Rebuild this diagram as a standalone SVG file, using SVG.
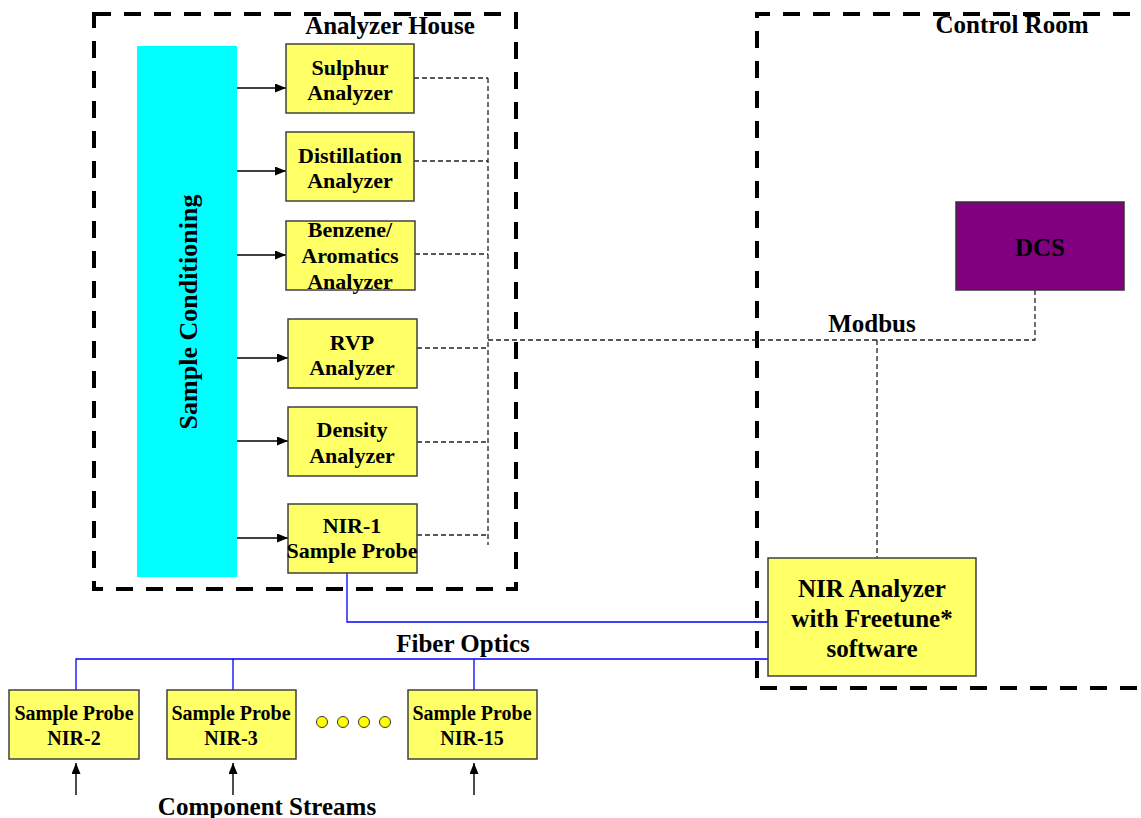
<svg xmlns="http://www.w3.org/2000/svg" width="1141" height="818" viewBox="0 0 1141 818">
<style>
text{font-family:"Liberation Serif","Times New Roman",serif;font-weight:bold;fill:#000;text-anchor:middle}
.t22{font-size:22px}
.t20{font-size:20px}
.t25{font-size:25px}
.box{fill:#FFFF66;stroke:#404040;stroke-width:1.5}
.zone{fill:none;stroke:#000;stroke-width:4;stroke-dasharray:17 13}
.sig{fill:none;stroke:#222;stroke-width:1.3;stroke-dasharray:5 3}
.fib{fill:none;stroke:#0000FF;stroke-width:1.3}
.arr{fill:none;stroke:#000;stroke-width:1.4;marker-end:url(#ah)}
</style>
<defs>
<marker id="ah" markerWidth="11" markerHeight="9" refX="11" refY="4.5" orient="auto" markerUnits="userSpaceOnUse">
<path d="M0,0 L11,4.5 L0,9 Z" fill="#000"/>
</marker>
</defs>
<rect width="1141" height="818" fill="#fff"/>

<g id="analyzer-house">
<rect class="zone" x="94" y="14" width="422" height="575"/>
<text class="t25" x="390" y="34">Analyzer House</text>
</g>
<g id="control-room">
<path class="zone" d="M1160,14 H757 V688 H1160"/>
<text class="t25" x="1012" y="33">Control Room</text>
</g>

<g id="connectors">
<path class="arr" d="M237,88 H286"/>
<path class="arr" d="M237,171 H286"/>
<path class="arr" d="M237,255 H286"/>
<path class="arr" d="M237,358 H288"/>
<path class="arr" d="M237,441 H288"/>
<path class="arr" d="M237,538 H288"/>
<path class="sig" d="M414,78 H488"/>
<path class="sig" d="M414,161 H488"/>
<path class="sig" d="M415,254 H488"/>
<path class="sig" d="M417,348 H488"/>
<path class="sig" d="M417,442 H488"/>
<path class="sig" d="M417,535 H488"/>
<path class="sig" d="M488,78 V545"/>
<path class="sig" d="M488,340 H1035 V290"/>
<path class="sig" d="M877,340 V558"/>
<path class="fib" d="M347,573 V622 H768"/>
<path class="fib" d="M76,690 V659 H768"/>
<path class="fib" d="M233,659 V690"/>
<path class="fib" d="M474,659 V690"/>
<path class="arr" d="M76,795 V763"/>
<path class="arr" d="M233,795 V763"/>
<path class="arr" d="M474,795 V763"/>
<text class="t25" x="872" y="332">Modbus</text>
<text class="t25" x="463" y="652">Fiber Optics</text>
<text class="t25" x="267" y="815">Component Streams</text>
</g>

<g id="sample-conditioning">
<rect x="137" y="46" width="100" height="531" fill="#00FFFF"/>
<text transform="translate(197,312) rotate(-90)" x="0" y="0" style="font-size:26px">Sample Conditioning</text>
</g>

<g id="sulphur">
<rect class="box" x="286" y="44" width="128" height="69"/>
<text class="t22" x="350" y="75">Sulphur</text>
<text class="t22" x="350" y="100">Analyzer</text>
</g>
<g id="distillation">
<rect class="box" x="286" y="132" width="128" height="69"/>
<text class="t22" x="350" y="163">Distillation</text>
<text class="t22" x="350" y="188">Analyzer</text>
</g>
<g id="benzene">
<rect class="box" x="286" y="221" width="129" height="69"/>
<text class="t22" x="350" y="237">Benzene/</text>
<text class="t22" x="350" y="263">Aromatics</text>
<text class="t22" x="350" y="289">Analyzer</text>
</g>
<g id="rvp">
<rect class="box" x="288" y="319" width="129" height="69"/>
<text class="t22" x="352" y="350">RVP</text>
<text class="t22" x="352" y="375">Analyzer</text>
</g>
<g id="density">
<rect class="box" x="288" y="407" width="129" height="69"/>
<text class="t22" x="352" y="437">Density</text>
<text class="t22" x="352" y="463">Analyzer</text>
</g>
<g id="nir1">
<rect class="box" x="288" y="504" width="129" height="69"/>
<text class="t22" x="352" y="533">NIR-1</text>
<text class="t22" x="352" y="558">Sample Probe</text>
</g>

<g id="dcs">
<rect x="956" y="202" width="168" height="88" fill="#800080" stroke="#333" stroke-width="1.5"/>
<text class="t25" x="1040" y="256">DCS</text>
</g>
<g id="nir-analyzer">
<rect class="box" x="768" y="558" width="208" height="118"/>
<text class="t25" x="872" y="597">NIR Analyzer</text>
<text class="t25" x="872" y="627">with Freetune*</text>
<text class="t25" x="872" y="657">software</text>
</g>

<g id="nir2">
<rect class="box" x="9" y="690" width="130" height="69"/>
<text class="t20" x="74" y="720">Sample Probe</text>
<text class="t20" x="74" y="745">NIR-2</text>
</g>
<g id="nir3">
<rect class="box" x="167" y="690" width="129" height="69"/>
<text class="t20" x="231" y="720">Sample Probe</text>
<text class="t20" x="231" y="745">NIR-3</text>
</g>
<g id="ellipsis">
<circle cx="322" cy="722" r="5.5" fill="#FFFF00" stroke="#333" stroke-width="1"/>
<circle cx="343" cy="722" r="5.5" fill="#FFFF00" stroke="#333" stroke-width="1"/>
<circle cx="364" cy="722" r="5.5" fill="#FFFF00" stroke="#333" stroke-width="1"/>
<circle cx="385" cy="722" r="5.5" fill="#FFFF00" stroke="#333" stroke-width="1"/>
</g>
<g id="nir15">
<rect class="box" x="408" y="690" width="129" height="69"/>
<text class="t20" x="472" y="720">Sample Probe</text>
<text class="t20" x="472" y="745">NIR-15</text>
</g>
</svg>
